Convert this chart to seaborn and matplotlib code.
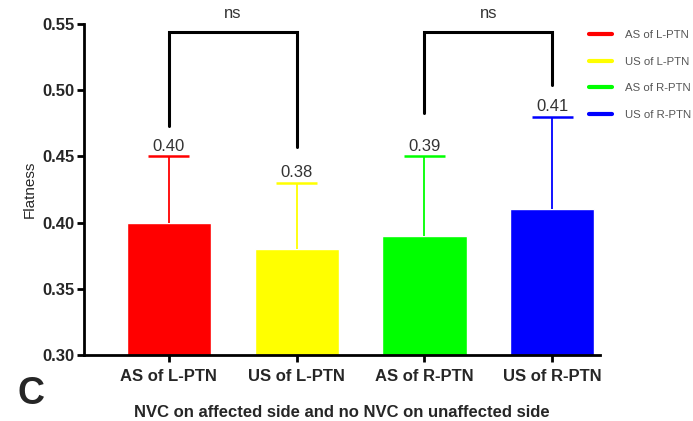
import seaborn as sns
import matplotlib.pyplot as plt
from matplotlib.lines import Line2D

# Bar data
groups = ["AS of L-PTN", "US of L-PTN", "AS of R-PTN", "US of R-PTN"]
means = [0.40, 0.38, 0.39, 0.41]
sd = [0.05, 0.05, 0.06, 0.07]
bar_labels = ["0.40", "0.38", "0.39", "0.41"]
colors = ["#ff0000", "#ffff00", "#00ff00", "#0000ff"]

# Significance brackets: (left bar, right bar, left leg bottom, right leg bottom, top, label)
brackets = [(0, 1, 0.473, 0.457, 0.544, "ns"),
            (2, 3, 0.483, 0.504, 0.544, "ns")]

sns.set_style("white")
plt.rcParams['font.family'] = ['Liberation Sans', 'DejaVu Sans']

fig = plt.figure(figsize=(6.93, 4.21), dpi=100)
ax = fig.add_axes([0.1212, 0.1568, 0.7446, 0.786])

sns.barplot(x=groups, y=means, hue=groups, palette=colors, legend=False,
            width=0.66, saturation=1, ax=ax)

# upward-only error bars in the bar colour (no cap at the bar top)
cap = 0.16
for i, (m, s, c) in enumerate(zip(means, sd, colors)):
    ax.vlines(i, m, m + s, color=c, lw=1.3, zorder=3)
    ax.hlines(m + s, i - cap, i + cap, color=c, lw=1.8, zorder=3)
    ax.annotate(bar_labels[i], (i, m + s), xytext=(0, 2), textcoords="offset points",
                ha="center", va="bottom", fontsize=12, color="#333333")

for a, b, ya, yb, top, lab in brackets:
    ax.plot([a, a, b, b], [ya, top, top, yb], color="black", lw=2.2,
            clip_on=False, solid_joinstyle="miter")
    ax.text((a + b) / 2, top + 0.008, lab, ha="center", va="bottom",
            fontsize=12, color="#333333", clip_on=False)

ax.set_ylim(0.30, 0.55)
ax.set_xlim(-0.665, 3.375)
ax.set_yticks([0.30, 0.35, 0.40, 0.45, 0.50, 0.55])
ax.set_yticklabels([f"{v:.2f}" for v in ax.get_yticks()], fontsize=12, fontweight="bold")
ax.set_xticks(range(len(groups)))
ax.set_xticklabels(groups, fontsize=12, fontweight="bold")
ax.set_ylabel("Flatness", fontsize=11, labelpad=4)
ax.set_xlabel("NVC on affected side and no NVC on unaffected side",
              fontsize=12, fontweight="bold", labelpad=15)

sns.despine(ax=ax)
for sp in ["left", "bottom"]:
    ax.spines[sp].set_linewidth(2)
    ax.spines[sp].set_color("black")
ax.tick_params(axis="both", direction="out", length=5, width=2, color="black",
               bottom=True, left=True)
ax.tick_params(axis="x", pad=5)
ax.tick_params(axis="y", pad=2)

fig.text(0.025, 0.022, "C", fontsize=27, fontweight="bold", va="bottom", ha="left")

handles = [Line2D([0], [0], color=c, lw=3) for c in colors]
fig.legend(handles, groups, loc="upper left", bbox_to_anchor=(0.835, 0.952),
           frameon=False, fontsize=8.2, labelcolor="#555555", handlelength=2.0,
           handletextpad=1.2, labelspacing=1.45)

plt.savefig("out.png", dpi=100)
